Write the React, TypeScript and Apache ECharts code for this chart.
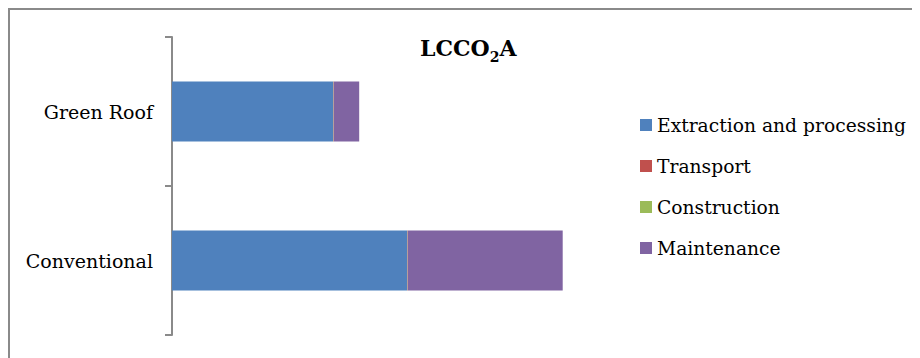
import React, { useEffect, useRef } from "react";
import * as echarts from "echarts";

const categories = ["Green Roof", "Conventional"];
const seriesNames = ["Extraction and processing", "Transport", "Construction", "Maintenance"];
const extraction = [161, 235];
const transport = [0.4, 0.4];
const construction = [0.3, 0.3];
const maintenance = [25.5, 155];
const colors = ["#4F81BD", "#C0504D", "#9BBB59", "#8064A2"];

const FONT = "DejaVu Serif";

export default function App() {
  const ref = useRef<HTMLDivElement>(null);
  useEffect(() => {
    if (!ref.current) return;
    const chart = echarts.init(ref.current, undefined, { renderer: "svg" });
    const values = [extraction, transport, construction, maintenance];
    chart.setOption({
      animation: false,
      title: {
        text: "{a|LCCO}{s|2}{a|A}",
        left: 407,
        top: 20,
        textStyle: {
          rich: {
            a: { fontFamily: FONT, fontWeight: "bold", fontSize: 22, color: "#000", lineHeight: 26, verticalAlign: "bottom" },
            s: { fontFamily: FONT, fontWeight: "bold", fontSize: 14, color: "#000", lineHeight: 26, verticalAlign: "bottom", padding: [0, 0, -5, 0] },
          },
        },
      },
      legend: {
        orient: "vertical",
        left: 627,
        top: 102,
        itemWidth: 12,
        itemHeight: 12,
        itemGap: 21,
        icon: "rect",
        data: seriesNames,
        textStyle: { fontFamily: FONT, fontSize: 18.7, color: "#000", lineHeight: 20 },
      },
      grid: { left: 164, top: 29, width: 450, height: 298, containLabel: false },
      xAxis: {
        type: "value",
        min: 0,
        max: 450,
        show: false,
        splitLine: { show: false },
      },
      yAxis: {
        type: "category",
        data: categories,
        inverse: true,
        axisLine: { show: true, lineStyle: { color: "#8a8a8a", width: 2 } },
        axisTick: { show: true, length: 7, lineStyle: { color: "#8a8a8a", width: 2 } },
        axisLabel: { margin: 19, fontFamily: FONT, fontSize: 19, color: "#000" },
        splitLine: { show: false },
      },
      series: seriesNames.map((name, i) => ({
        name,
        type: "bar",
        stack: "total",
        barWidth: 60,
        data: values[i],
        itemStyle: { color: colors[i] },
      })),
      graphic: [
        { type: "line", shape: { x1: 0, y1: 1, x2: 912, y2: 1 }, style: { stroke: "#8a8a8a", lineWidth: 2 } },
        { type: "line", shape: { x1: 1, y1: 0, x2: 1, y2: 350 }, style: { stroke: "#8a8a8a", lineWidth: 2 } },
      ],
    });
    return () => chart.dispose();
  }, []);
  return <div ref={ref} style={{ width: 912, height: 350 }} />;
}
